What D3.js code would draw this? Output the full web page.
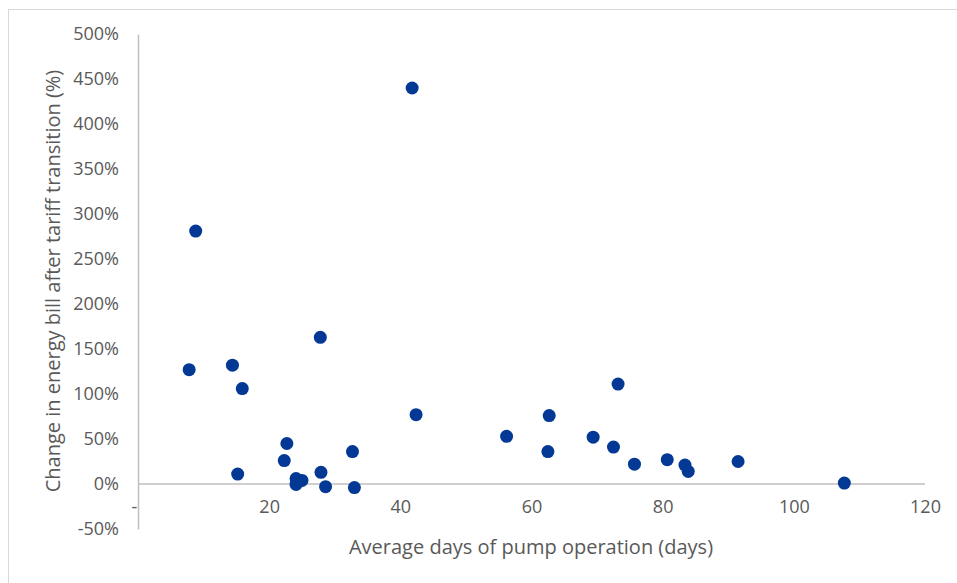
<!DOCTYPE html>
<html>
<head>
<meta charset="utf-8">
<script src="https://cdn.jsdelivr.net/npm/d3@7"></script>
<style>
  body { margin: 0; background: #fff; }
  svg { display: block; font-family: "Open Sans", "Noto Sans", sans-serif; }
</style>
</head>
<body>
<svg id="chart" width="957" height="583"></svg>
<script>
// days of pump operation (x) and change in energy bill in % (y)
var days = [7.8, 8.8, 14.4, 15.9, 15.2, 22.7, 22.3, 24.1, 24.1, 25.0, 27.8, 27.9, 28.6, 32.7, 33.0,
            41.8, 42.4, 56.2, 62.7, 62.5, 69.4, 72.5, 73.2, 75.7, 80.7, 83.4, 83.9, 91.5, 107.7];
var billChange = [127, 281, 132, 106, 11, 45, 26, -0.5, 6, 4, 163, 13, -3, 36, -4,
                  440, 77, 53, 76, 36, 52, 41, 111, 22, 27, 21, 14, 25, 1];
var xTicks = [0, 20, 40, 60, 80, 100, 120];
var yTicks = [-50, 0, 50, 100, 150, 200, 250, 300, 350, 400, 450, 500];

var dimensions = {
    width: 957,
    height: 583,
    margin: { top: 34, bottom: 54, right: 32, left: 138 }
};

var svg = d3.select("#chart");

// outer chart-area border (only top and left visible in the reference)
svg.append("rect")
   .attr("x", 8.5).attr("y", 9.5)
   .attr("width", 1000).attr("height", 1000)
   .style("fill", "none")
   .style("stroke", "#d9d9d9")
   .style("stroke-width", 1);

var xScale = d3.scaleLinear()
               .domain([0, 120])
               .range([dimensions.margin.left, dimensions.width - dimensions.margin.right]);

var yScale = d3.scaleLinear()
               .domain([-50, 500])
               .range([dimensions.height - dimensions.margin.bottom, dimensions.margin.top]);

// y axis (labels left, no ticks)
var yAxisGen = d3.axisLeft(yScale)
                 .tickValues(yTicks)
                 .tickSize(0)
                 .tickPadding(19)
                 .tickFormat(function(d){ return d + "%"; });
var yAxis = svg.append("g")
               .attr("transform", "translate(" + xScale(0) + ",0)")
               .call(yAxisGen);
yAxis.select(".domain").style("stroke", "#bfbfbf").style("stroke-width", 1.5);
yAxis.selectAll("text").style("font-size", "18px").style("fill", "#595959").style("font-family", "Open Sans");

// x axis line sits at y = 0
svg.append("line")
   .attr("x1", xScale(0)).attr("x2", xScale(120))
   .attr("y1", yScale(0)).attr("y2", yScale(0))
   .style("stroke", "#bfbfbf")
   .style("stroke-width", 1.5);

// x tick labels just below the zero line
var xAxisGen = d3.axisBottom(xScale)
                 .tickValues(xTicks)
                 .tickSize(0)
                 .tickPadding(16)
                 .tickFormat(function(d){ return d === 0 ? "-" : d; });
var xAxis = svg.append("g")
               .attr("transform", "translate(0," + yScale(0) + ")")
               .call(xAxisGen);
xAxis.select(".domain").remove();
xAxis.selectAll("text").style("font-size", "18px").style("fill", "#595959").style("font-family", "Open Sans");
xAxis.selectAll(".tick").filter(function(d){ return d === 0; })
     .select("text").attr("x", -4);

// points
svg.append("g")
   .selectAll("circle")
   .data(days)
   .enter()
   .append("circle")
   .attr("cx", function(d){ return xScale(d); })
   .attr("cy", function(d, i){ return yScale(billChange[i]); })
   .attr("r", 6.5)
   .style("fill", "#033894");

// axis titles
svg.append("text")
   .attr("x", 531)
   .attr("y", 554)
   .attr("text-anchor", "middle")
   .style("font-size", "20px")
   .style("fill", "#595959")
   .text("Average days of pump operation (days)");

svg.append("text")
   .attr("transform", "translate(60,281) rotate(-90)")
   .attr("text-anchor", "middle")
   .style("font-size", "20px")
   .style("fill", "#595959")
   .text("Change in energy bill after tariff transition (%)");
</script>
</body>
</html>
